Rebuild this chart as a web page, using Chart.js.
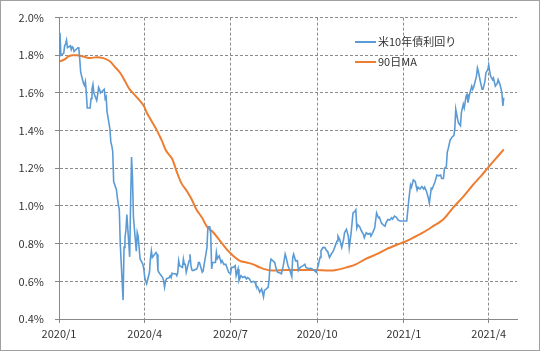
<!DOCTYPE html>
<html>
<head>
<meta charset="utf-8">
<script src="https://cdn.jsdelivr.net/npm/chart.js@4"></script>
<style>
  body { margin: 0; background: #fff; }
  #wrap { width: 540px; height: 351px; }
</style>
</head>
<body>
<div id="wrap"><canvas id="chart" width="540" height="351"></canvas></div>
<script>
// 米10年債利回り (daily)
const yieldDates = [
  '2020/1/2','2020/1/3','2020/1/6','2020/1/7','2020/1/8','2020/1/9','2020/1/10','2020/1/13','2020/1/14','2020/1/15','2020/1/16','2020/1/17','2020/1/21','2020/1/22','2020/1/23','2020/1/24','2020/1/27','2020/1/28','2020/1/29','2020/1/30','2020/1/31',
  '2020/2/3','2020/2/4','2020/2/5','2020/2/6','2020/2/7','2020/2/10','2020/2/11','2020/2/12','2020/2/13','2020/2/14','2020/2/18','2020/2/19','2020/2/20','2020/2/21','2020/2/24','2020/2/25','2020/2/26','2020/2/27','2020/2/28',
  '2020/3/2','2020/3/3','2020/3/4','2020/3/5','2020/3/6','2020/3/9','2020/3/10','2020/3/11','2020/3/12','2020/3/13','2020/3/16','2020/3/17','2020/3/18','2020/3/19','2020/3/20','2020/3/23','2020/3/24','2020/3/25','2020/3/26','2020/3/27','2020/3/30','2020/3/31',
  '2020/4/1','2020/4/2','2020/4/3','2020/4/6','2020/4/7','2020/4/8','2020/4/9','2020/4/13','2020/4/14','2020/4/15','2020/4/16','2020/4/17','2020/4/20','2020/4/21','2020/4/22','2020/4/23','2020/4/24','2020/4/27','2020/4/28','2020/4/29','2020/4/30',
  '2020/5/1','2020/5/4','2020/5/5','2020/5/6','2020/5/7','2020/5/8','2020/5/11','2020/5/12','2020/5/13','2020/5/14','2020/5/15','2020/5/18','2020/5/19','2020/5/20','2020/5/21','2020/5/22','2020/5/26','2020/5/27','2020/5/28','2020/5/29',
  '2020/6/1','2020/6/2','2020/6/3','2020/6/4','2020/6/6','2020/6/7','2020/6/9','2020/6/10','2020/6/11','2020/6/12','2020/6/15','2020/6/16','2020/6/17','2020/6/19','2020/6/21','2020/6/22','2020/6/24','2020/6/26','2020/6/29',
  '2020/7/1','2020/7/2','2020/7/4','2020/7/6','2020/7/7','2020/7/9','2020/7/10','2020/7/12','2020/7/14','2020/7/16','2020/7/18','2020/7/19','2020/7/21','2020/7/23','2020/7/25','2020/7/27','2020/7/28','2020/7/30',
  '2020/8/1','2020/8/3','2020/8/5','2020/8/6','2020/8/8','2020/8/10','2020/8/11','2020/8/12','2020/8/13','2020/8/15','2020/8/17','2020/8/18','2020/8/20','2020/8/22','2020/8/24','2020/8/26','2020/8/28','2020/8/29','2020/8/31',
  '2020/9/2','2020/9/4','2020/9/5','2020/9/6','2020/9/8','2020/9/10','2020/9/11','2020/9/13','2020/9/16','2020/9/18','2020/9/19','2020/9/21','2020/9/23','2020/9/24','2020/9/26','2020/9/28','2020/9/30',
  '2020/10/2','2020/10/4','2020/10/5','2020/10/7','2020/10/9','2020/10/11','2020/10/12','2020/10/14','2020/10/16','2020/10/18','2020/10/20','2020/10/22','2020/10/23','2020/10/25','2020/10/27','2020/10/29','2020/10/30',
  '2020/11/1','2020/11/3','2020/11/4','2020/11/6','2020/11/8','2020/11/10','2020/11/11','2020/11/12','2020/11/13','2020/11/15','2020/11/17','2020/11/19','2020/11/20','2020/11/22','2020/11/24','2020/11/26','2020/11/27','2020/11/29',
  '2020/12/1','2020/12/3','2020/12/5','2020/12/6','2020/12/8','2020/12/10','2020/12/12','2020/12/13','2020/12/15','2020/12/17','2020/12/19','2020/12/20','2020/12/22','2020/12/24','2020/12/26','2020/12/28','2020/12/29','2020/12/31',
  '2021/1/2','2021/1/4','2021/1/6','2021/1/8','2021/1/9','2021/1/11','2021/1/13','2021/1/15','2021/1/16','2021/1/18','2021/1/20','2021/1/22','2021/1/23','2021/1/25','2021/1/27','2021/1/28','2021/1/30','2021/1/31',
  '2021/2/1','2021/2/3','2021/2/5','2021/2/7','2021/2/9','2021/2/10','2021/2/12','2021/2/13','2021/2/15','2021/2/16','2021/2/17','2021/2/19','2021/2/21','2021/2/23','2021/2/24','2021/2/25','2021/2/27','2021/2/28',
  '2021/3/2','2021/3/3','2021/3/5','2021/3/6','2021/3/8','2021/3/9','2021/3/10','2021/3/12','2021/3/14','2021/3/15','2021/3/16','2021/3/19','2021/3/20','2021/3/21','2021/3/23','2021/3/25','2021/3/26','2021/3/28','2021/3/29','2021/3/31',
  '2021/4/1','2021/4/2','2021/4/3','2021/4/5','2021/4/6','2021/4/8','2021/4/10','2021/4/11','2021/4/13','2021/4/15','2021/4/16','2021/4/17'
];
const yieldValues = [
  1.92,1.80,1.81,1.85,1.86,1.88,1.84,1.85,1.83,1.845,1.84,1.82,1.84,1.84,1.78,1.71,1.65,1.64,1.66,1.60,1.52,
  1.52,1.57,1.62,1.645,1.60,1.56,1.59,1.63,1.62,1.60,1.62,1.57,1.58,1.50,1.41,1.34,1.32,1.29,1.13,
  1.085,1.04,1.007,0.98,0.80,0.50,0.78,0.83,0.87,0.955,0.73,1.02,1.26,1.15,0.94,0.76,0.86,0.84,0.78,0.72,0.69,0.665,
  0.62,0.60,0.587,0.648,0.72,0.762,0.727,0.753,0.744,0.657,0.648,0.64,0.62,0.604,0.569,0.60,0.613,0.62,0.63,0.62,0.643,
  0.64,0.64,0.63,0.645,0.709,0.683,0.674,0.718,0.69,0.69,0.648,0.709,0.744,0.683,0.66,0.657,0.665,0.675,0.70,0.70,
  0.648,0.655,0.69,0.718,0.779,0.89,0.89,0.85,0.666,0.70,0.70,0.753,0.72,0.735,0.70,0.71,0.69,0.69,0.648,
  0.64,0.674,0.674,0.683,0.63,0.666,0.604,0.63,0.62,0.625,0.613,0.62,0.613,0.595,0.60,0.595,0.578,0.569,
  0.543,0.56,0.517,0.552,0.56,0.569,0.613,0.69,0.718,0.709,0.70,0.674,0.648,0.645,0.64,0.683,0.744,0.727,0.683,
  0.657,0.625,0.727,0.744,0.709,0.71,0.657,0.674,0.683,0.69,0.674,0.67,0.666,0.67,0.665,0.657,0.648,
  0.683,0.727,0.762,0.779,0.78,0.762,0.76,0.727,0.745,0.76,0.787,0.814,0.84,0.82,0.779,0.823,0.858,
  0.876,0.84,0.779,0.858,0.963,0.972,0.98,0.884,0.90,0.89,0.867,0.85,0.832,0.858,0.85,0.855,0.84,0.86,
  0.884,0.963,0.937,0.94,0.91,0.90,0.893,0.91,0.928,0.925,0.937,0.93,0.946,0.94,0.925,0.92,0.92,0.92,
  0.92,0.92,1.024,1.112,1.10,1.138,1.13,1.085,1.10,1.09,1.103,1.09,1.10,1.077,1.041,1.015,1.094,1.09,
  1.103,1.129,1.164,1.16,1.164,1.146,1.146,1.199,1.208,1.286,1.304,1.348,1.365,1.374,1.409,1.514,1.46,1.44,
  1.426,1.496,1.54,1.52,1.584,1.593,1.549,1.60,1.636,1.619,1.63,1.689,1.733,1.715,1.663,1.619,1.62,1.663,1.706,1.724,
  1.75,1.715,1.689,1.671,1.68,1.636,1.65,1.671,1.645,1.60,1.531,1.575
];

// 90日MA (sampled along the curve)
const maDates = [
  '2020/1/2','2020/1/7','2020/1/11','2020/1/15','2020/1/20','2020/1/27','2020/2/3','2020/2/10','2020/2/17','2020/2/24','2020/2/29',
  '2020/3/6','2020/3/11','2020/3/16','2020/3/24','2020/3/31','2020/4/3','2020/4/8','2020/4/14','2020/4/19','2020/4/24','2020/4/30',
  '2020/5/5','2020/5/10','2020/5/16','2020/5/21','2020/5/26','2020/6/1','2020/6/6','2020/6/13','2020/6/20','2020/6/27',
  '2020/7/4','2020/7/11','2020/7/18','2020/7/25','2020/8/1','2020/8/8','2020/8/15','2020/8/29','2020/9/16','2020/9/30',
  '2020/10/14','2020/10/21','2020/11/1','2020/11/11','2020/11/21','2020/12/3','2020/12/13','2020/12/24',
  '2021/1/2','2021/1/11','2021/1/21','2021/2/1','2021/2/12','2021/2/22','2021/3/5','2021/3/15','2021/3/24','2021/4/1','2021/4/10','2021/4/17'
];
const maValues = [
  1.768,1.778,1.794,1.80,1.80,1.793,1.785,1.79,1.785,1.768,1.74,
  1.706,1.663,1.619,1.575,1.531,1.496,1.453,1.40,1.348,1.29,1.251,
  1.181,1.12,1.077,1.033,0.98,0.936,0.89,0.858,0.814,0.77,
  0.735,0.709,0.70,0.69,0.674,0.662,0.657,0.66,0.66,0.66,
  0.657,0.66,0.674,0.69,0.718,0.744,0.77,0.793,
  0.81,0.832,0.858,0.893,0.93,0.99,1.05,1.11,1.16,1.208,1.26,1.30
];

const tickDates = ['2020/1/1','2020/4/1','2020/7/1','2020/10/1','2021/1/1','2021/4/1'];
const tickLabels = ['2020/1','2020/4','2020/7','2020/10','2021/1','2021/4'];
const axisEnd = '2021/5/1';

const day0 = Date.UTC(2020, 0, 1);
function dayIndex(s) {
  const [y, m, d] = s.split('/').map(Number);
  return (Date.UTC(y, m - 1, d) - day0) / 864e5;
}
const tickDays = tickDates.map(dayIndex);

const labelFont = { family: '"Noto Sans CJK JP", "Liberation Sans", sans-serif', size: 11 };
const gridColor = '#8c8c8c';

// legend inside the plot, top right, like the original
const insideLegend = {
  id: 'insideLegend',
  afterDraw(chart) {
    const ctx = chart.ctx;
    ctx.save();
    ctx.font = '11px "Noto Sans CJK JP", sans-serif';
    ctx.textBaseline = 'middle';
    chart.data.datasets.forEach((ds, i) => {
      const y = 42 + i * 20;
      ctx.strokeStyle = ds.borderColor;
      ctx.lineWidth = 2;
      ctx.beginPath();
      ctx.moveTo(355, y);
      ctx.lineTo(376, y);
      ctx.stroke();
      ctx.fillStyle = '#333';
      ctx.fillText(ds.label, 378, y);
    });
    ctx.restore();
  }
};

const frame = {
  id: 'frame',
  beforeDraw(chart) {
    const ctx = chart.ctx;
    ctx.save();
    ctx.fillStyle = '#fff';
    ctx.fillRect(0, 0, chart.width, chart.height);
    ctx.strokeStyle = '#a0a0a0';
    ctx.lineWidth = 1;
    ctx.strokeRect(0.5, 0.5, chart.width - 1, chart.height - 1);
    ctx.restore();
  }
};

new Chart(document.getElementById('chart'), {
  type: 'line',
  data: {
    datasets: [{
      label: '米10年債利回り',
      data: yieldDates.map((d, i) => ({ x: dayIndex(d), y: yieldValues[i] })),
      borderColor: '#5b9bd5',
      borderWidth: 1.6,
      pointRadius: 0,
      tension: 0
    }, {
      label: '90日MA',
      data: maDates.map((d, i) => ({ x: dayIndex(d), y: maValues[i] })),
      borderColor: '#ed7d31',
      borderWidth: 2,
      pointRadius: 0,
      tension: 0.3
    }]
  },
  options: {
    responsive: false,
    animation: false,
    devicePixelRatio: 1,
    layout: { padding: { left: 0, top: 14, right: 23, bottom: 0 } },
    plugins: { legend: { display: false }, tooltip: { enabled: false } },
    scales: {
      x: {
        type: 'linear',
        min: 0,
        max: dayIndex(axisEnd),
        afterBuildTicks: s => { s.ticks = tickDays.map(v => ({ value: v })); },
        afterFit: s => { s.height = 32; },
        ticks: {
          autoSkip: false,
          maxRotation: 0,
          padding: 4,
          color: '#333',
          font: labelFont,
          callback: v => tickLabels[tickDays.indexOf(v)]
        },
        grid: { display: true, drawOnChartArea: true, color: gridColor, lineWidth: 1, tickLength: 4, tickColor: '#888' },
        border: { display: true, color: '#888', dash: [3, 2] }
      },
      y: {
        min: 0.4,
        max: 2.0,
        afterFit: s => { s.width = 59; },
        ticks: {
          stepSize: 0.2,
          padding: 11,
          color: '#333',
          font: labelFont,
          callback: v => v.toFixed(1) + '%'
        },
        grid: { display: true, drawOnChartArea: true, color: gridColor, lineWidth: 1, tickLength: 4, tickColor: '#888' },
        border: { display: true, color: '#888', dash: [3, 2] }
      }
    }
  },
  plugins: [frame, insideLegend]
});
</script>
</body>
</html>
